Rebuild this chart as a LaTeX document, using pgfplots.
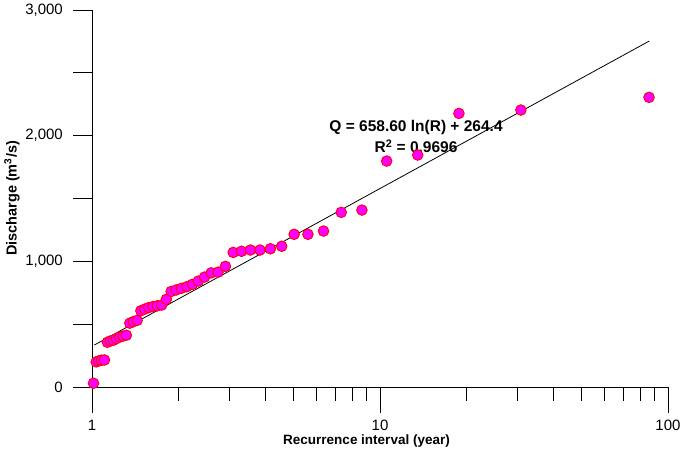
\documentclass[border=0pt]{standalone}
\usepackage{fontspec}
\setmainfont{Liberation Sans}
\usepackage{pgfplots}
\pgfplotsset{compat=1.18}
\definecolor{mag}{RGB}{255,0,255}
\begin{document}
\begin{tikzpicture}
% y axis with its own tick length
\begin{axis}[
  scale only axis,
  width=576bp, height=377bp,
  xmode=log,
  xmin=1, xmax=100,
  ymin=0, ymax=3000,
  tick align=outside,
  axis line style={-, black, line width=0.8bp},
  tick style={line width=0.8bp, black},
  /pgf/number format/assume math mode=true,
  ticklabel style={font=\fontsize{15bp}{18bp}\selectfont},
  clip=false,
  axis x line=none,
  axis y line*=left,
  ytick={0,500,1000,1500,2000,2500,3000},
  yticklabels={0,,{1,000},,{2,000},,{3,000}},
  minor ytick={},
  major tick length=19bp,
  yticklabel style={anchor=east, inner sep=0pt, xshift=-10bp},
  ylabel={Discharge (m\textsuperscript{3}/s)},
  ylabel style={font=\fontsize{14.5bp}{17bp}\selectfont\bfseries, at={(axis description cs:-0.139,0.5)}, anchor=center},
]
\end{axis}
% x axis and data
\begin{axis}[
  scale only axis,
  width=576bp, height=377bp,
  xmode=log,
  xmin=1, xmax=100,
  ymin=0, ymax=3000,
  tick align=outside,
  axis line style={-, black, line width=0.8bp},
  tick style={line width=0.8bp, black},
  /pgf/number format/assume math mode=true,
  ticklabel style={font=\fontsize{15bp}{18bp}\selectfont},
  clip=false,
  axis x line*=bottom,
  axis y line=none,
  xtick={1,10,100},
  xticklabels={1,10,100},
  minor xtick={2,3,4,5,6,7,8,9,20,30,40,50,60,70,80,90},
  major tick length=26bp,
  minor tick length=14bp,
  xticklabel style={anchor=center, inner sep=0pt, yshift=-12bp},
  xlabel={Recurrence interval (year)},
  xlabel style={font=\fontsize{13.5bp}{16bp}\selectfont\bfseries, at={(axis description cs:0.4766,-0.143)}, anchor=center},
]
\addplot[black, line width=0.8bp] coordinates {(1.0186,334) (86.1,2753)};
\addplot[only marks, mark=*, mark size=5.3bp,
  mark options={fill=mag, draw=red, line width=0.9bp}] coordinates {
(1.012,30)
(1.034,200)
(1.056,208)
(1.080,213)
(1.105,215)
(1.131,356)
(1.158,366)
(1.186,372)
(1.216,385)
(1.248,398)
(1.281,405)
(1.316,412)
(1.353,508)
(1.392,520)
(1.434,530)
(1.478,607)
(1.525,620)
(1.575,632)
(1.628,640)
(1.685,646)
(1.746,652)
(1.812,698)
(1.883,760)
(1.959,772)
(2.042,785)
(2.133,798)
(2.232,817)
(2.340,843)
(2.460,875)
(2.593,908)
(2.740,914)
(2.906,960)
(3.093,1071)
(3.305,1080)
(3.549,1090)
(3.831,1090)
(4.163,1100)
(4.557,1120)
(5.033,1215)
(5.621,1215)
(6.365,1241)
(7.335,1390)
(8.655,1408)
(10.55,1798)
(13.52,1846)
(18.80,2177)
(30.85,2204)
(85.93,2305)
};
\node[font=\fontsize{15.5bp}{18bp}\selectfont\bfseries, anchor=center, inner sep=0pt] at (axis cs:13.34,2068) {Q = 658.60 ln(R) + 264.4};
\node[font=\fontsize{15.5bp}{18bp}\selectfont\bfseries, anchor=center, inner sep=0pt] at (axis cs:13.34,1917) {R\textsuperscript{2} = 0.9696};
\end{axis}
\pgfresetboundingbox
\path[use as bounding box] (-92bp,-66bp) rectangle (591bp,387bp);
\end{tikzpicture}
\end{document}
